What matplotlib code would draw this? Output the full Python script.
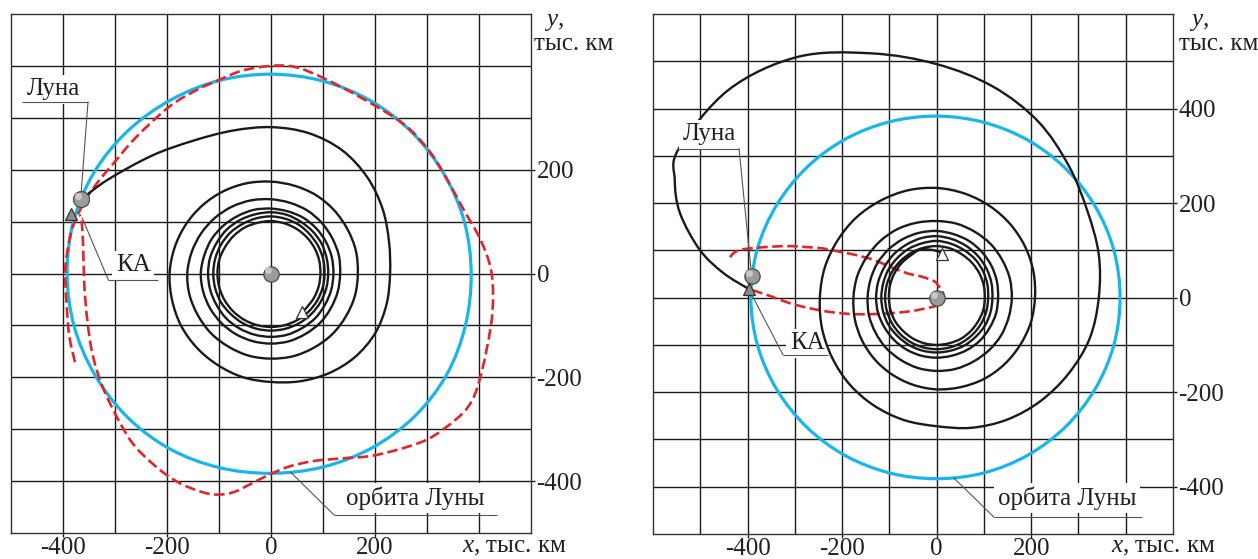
import numpy as np
import matplotlib
matplotlib.use('Agg')
import matplotlib.pyplot as plt
from matplotlib.path import Path
from matplotlib.patches import PathPatch

plt.rcParams['font.family'] = ['Liberation Serif', 'DejaVu Serif']
plt.rcParams['mathtext.fontset'] = 'custom'
plt.rcParams['mathtext.it'] = 'Liberation Serif:italic'
plt.rcParams['mathtext.rm'] = 'Liberation Serif'
plt.rcParams['axes.unicode_minus'] = False

# ---------------- data: left panel ----------------
L_xticks = [-400, -200, 0, 200]
L_yticks = [200, 0, -200, -400]
# Moon orbit: radius (thousand km) every 15 deg from 0 to 360
L_moon_orbit_r = [385, 385, 384, 384, 384, 384, 384, 385, 386, 389, 392, 393, 392,
                  392, 391, 391, 390, 387, 385, 386, 388, 390, 390, 387, 385]
# Spacecraft spiral: start point (angle, r), then r every 15 deg from -45 deg, then end
L_spiral_start = (-51, 95)
L_spiral_a0 = -45
L_spiral_r = [95, 95, 95,
              95, 96, 97, 98, 99, 100,
              101, 101, 102, 102, 102, 103,
              103, 103, 103, 103, 103, 103,
              103, 103, 103, 103, 103, 103,
              103, 104, 105, 106, 108, 109,
              110, 110, 110, 111, 111, 111,
              111, 111, 111, 110, 110, 110,
              110, 110, 110, 110, 110, 110,
              110, 111, 113, 114, 115, 117,
              118, 118, 119, 120, 120, 121,
              121, 121, 121, 122, 122, 122,
              122, 122, 121, 121, 120, 120,
              120, 121, 122, 123, 124, 124,
              125, 127, 128, 130, 132, 133,
              135, 135, 135, 135, 135, 135,
              135, 135, 134, 134, 133, 133,
              133, 135, 136, 138, 140, 141,
              143, 146, 149, 152, 155, 158,
              161, 162, 162, 163, 163, 164,
              164, 165, 165, 166, 166, 167,
              167, 169, 170, 172, 174, 175,
              177, 180, 183, 186, 189, 192,
              195, 197, 200, 202, 204, 207,
              209, 215, 222, 228, 231, 230,
              229, 235, 248, 262, 274, 280,
              282, 285, 296, 322, 362]
L_spiral_end = (-365, 143)
# red dashed trajectory (x, y in thousand km)
L_red_x = [-377, -388, -393, -396, -392, -384, -372, -355, -330, -303, -260, -195, -140,
           -102, -55, 0, 46, 100, 178, 255, 302, 333, 371, 402, 422, 427, 422, 402, 379,
           333, 286, 201, 139, 84, 38, 0, -40, -71, -102, -133, -179, -226, -272, -319,
           -342, -353, -359, -361, -364, -368]
L_red_y = [-171, -120, -60, 0, 40, 81, 112, 145, 180, 212, 262, 322, 355, 372, 391, 400,
           398, 377, 336, 288, 239, 191, 122, 67, 12, -43, -106, -202, -257, -299, -326,
           -350, -356, -361, -371, -386, -406, -421, -426, -421, -402, -368, -319, -230,
           -161, -92, -23, 46, 100, 113]
L_earth = (0, 0)
L_moon = (-365, 143)
L_ka = (-385, 115)
L_start = (60, -74)

# ---------------- data: right panel ----------------
R_xticks = [-400, -200, 0, 200]
R_yticks = [400, 200, 0, -200, -400]
R_moon_orbit_r = [388, 388, 387, 386, 385, 384, 384, 385, 387, 389, 391, 393, 393,
                  392, 390, 388, 386, 384, 383, 384, 385, 386, 387, 388, 388]
R_spiral_start_x = [12, -10, -36]
R_spiral_start_y = [95, 101, 101]
R_spiral_a0 = 120
R_spiral_r = [105, 104, 103, 102,
              101, 101, 101, 100, 100, 100,
              100, 100, 101, 101, 101, 102,
              102, 103, 104, 105, 106, 108,
              109, 109, 109, 109, 109, 109,
              109, 109, 109, 109, 109, 109,
              109, 109, 109, 109, 109, 109,
              109, 111, 113, 115, 116, 118,
              120, 119, 119, 118, 118, 117,
              117, 117, 117, 116, 116, 116,
              116, 116, 117, 117, 118, 118,
              118, 120, 122, 124, 126, 128,
              130, 130, 129, 129, 128, 128,
              128, 128, 127, 127, 127, 127,
              127, 127, 128, 129, 129, 130,
              130, 132, 134, 136, 138, 139,
              141, 142, 143, 144, 145, 145,
              146, 148, 149, 151, 152, 154,
              155, 156, 156, 157, 158, 158,
              159, 160, 160, 161, 161, 162,
              162, 164, 167, 169, 171, 174,
              176, 179, 182, 185, 188, 191,
              194, 196, 199, 201, 203, 206,
              208, 212, 216, 220, 224, 228,
              232, 235, 237, 240, 242, 245,
              247, 251, 255, 260, 264, 268,
              272, 285, 298, 310, 322, 335,
              343, 355, 368, 395, 430, 462,
              494, 535, 588, 622, 630]
R_spiral_end_x = [-554, -543, -501, -451, -397]
R_spiral_end_y = [249, 179, 101, 52, 18]
R_red_x = [-390, -351, -310, -266, -220, -172, -113, -57, -20, 0, 10, 15, 12, 3, -4, -30,
           -64, -100, -134, -170, -205, -240, -275, -310, -346, -385, -416, -432, -439]
R_red_y = [16, 3, -12, -23, -31, -35, -34, -29, -22, -17, -10, 0, 14, 26, 34, 44, 52, 66,
           80, 90, 97, 104, 107, 109, 108, 105, 101, 92, 80]
R_earth = (0, 0)
R_moon = (-391, 46)
R_ka = (-397, 18)
R_start = (12, 93)

CYAN = '#19b6e9'
RED = '#e0262b'
BLACK = '#1a1a1a'
TXT = '#231f20'

W, H = 1258, 559
fig = plt.figure(figsize=(W / 100, H / 100), dpi=100)


def polar_xy(a0, rs):
    ang = np.deg2rad(a0 + 15 * np.arange(len(rs)))
    r = np.asarray(rs, float)
    return r * np.cos(ang), r * np.sin(ang)


def smooth(ax, x, y, closed=False, **kw):
    """Draw a smooth curve (cubic Bezier segments) through the given points."""
    P = np.column_stack([x, y]).astype(float)
    n = len(P)
    if closed:
        ext = np.vstack([P[-2], P, P[1]])
    else:
        ext = np.vstack([P[0], P, P[-1]])
    verts = [P[0]]
    codes = [Path.MOVETO]
    for i in range(n - 1):
        p0, p1, p2, p3 = ext[i], ext[i + 1], ext[i + 2], ext[i + 3]
        verts += [p1 + (p2 - p0) / 6.0, p2 - (p3 - p1) / 6.0, p2]
        codes += [Path.CURVE4] * 3
    patch = PathPatch(Path(verts, codes), fill=False, **kw)
    ax.add_patch(patch)
    return patch


def setup(ax, xlim, ylim, xt, yt):
    ax.set_xlim(*xlim)
    ax.set_ylim(*ylim)
    ax.set_xticks(xt)
    ax.set_xticklabels([str(v) for v in xt])
    ax.set_yticks(yt)
    ax.set_yticklabels([str(v) for v in yt])
    ax.set_xticks(np.arange(xlim[0] + 100, xlim[1], 100), minor=True)
    ax.set_yticks(np.arange(ylim[0] + 100, ylim[1], 100), minor=True)
    ax.yaxis.tick_right()
    ax.tick_params(which='major', direction='out', length=3, width=1.0, color=BLACK,
                   labelsize=18, labelcolor=TXT)
    ax.tick_params(axis='x', which='major', pad=0.2)
    ax.tick_params(axis='y', which='major', pad=1)
    ax.tick_params(which='minor', length=0)
    ax.grid(True, which='both', color=BLACK, lw=1.0, zorder=0.5)
    ax.set_axisbelow(True)
    for s in ax.spines.values():
        s.set_color('#333333')
        s.set_linewidth(1.0)


def sphere(ax, xy, size):
    ax.plot(*xy, 'o', ms=size, mfc='#9b9b9b', mec='#4a4a4a', mew=0.9, zorder=7)
    ax.plot(xy[0] - size * 0.6, xy[1] + size * 0.6, 'o', ms=size * 0.45, mfc='#c8c8c8',
            mec='none', zorder=7.1)


def callout(ax, text, txy, ul_x, ul_y, lead_to, lead_from_left, z=3.5):
    ax.text(txy[0], txy[1], text, ha='center', va='center', fontsize=18, color=TXT,
            zorder=z, bbox=dict(fc='white', ec='none', pad=2.5))
    ax.plot(ul_x, [ul_y, ul_y], color='#555555', lw=0.8, zorder=10, solid_capstyle='butt')
    x0 = ul_x[0] if lead_from_left else ul_x[1]
    ax.plot([x0, lead_to[0]], [ul_y, lead_to[1]], color='#555555', lw=0.8, zorder=10)


# ---------------- left panel ----------------
ax1 = fig.add_axes([11 / W, (H - 533) / H, 520 / W, 519 / H])
setup(ax1, (-500, 500), (-500, 500), L_xticks, L_yticks)
mx, my = polar_xy(0, L_moon_orbit_r)
smooth(ax1, mx, my, closed=True, color=CYAN, lw=2.3, zorder=2)
smooth(ax1, L_red_x, L_red_y, color=RED, lw=1.9, linestyle=(0, (4, 1.7)), zorder=3)
sx, sy = polar_xy(L_spiral_a0, L_spiral_r)
a = np.deg2rad(L_spiral_start[0])
sx = np.concatenate([[L_spiral_start[1] * np.cos(a)], sx, [L_spiral_end[0]]])
sy = np.concatenate([[L_spiral_start[1] * np.sin(a)], sy, [L_spiral_end[1]]])
smooth(ax1, sx, sy, color=BLACK, lw=1.7, zorder=4)
sphere(ax1, L_earth, 11)
sphere(ax1, L_moon, 11.5)
ax1.plot(*L_ka, '^', ms=9, mfc='#8c8c8c', mec='#333333', mew=0.9, zorder=8)
ax1.plot(*L_start, '^', ms=9, mfc='white', mec='#333333', mew=0.9, zorder=8)
callout(ax1, 'Луна', (-419, 355), [-479, -352], 330, (-365, 157), False)
callout(ax1, 'КА', (-265, 16), [-313, -217], -12, (-363, 107), True)
callout(ax1, 'орбита Луны', (278, -433), [121, 435], -465, (38, -383), True)

# ---------------- right panel ----------------
ax2 = fig.add_axes([653 / W, (H - 534) / H, 520 / W, 520 / H])
setup(ax2, (-600, 500), (-500, 600), R_xticks, R_yticks)
mx, my = polar_xy(0, R_moon_orbit_r)
smooth(ax2, mx, my, closed=True, color=CYAN, lw=2.3, zorder=2)
smooth(ax2, R_red_x, R_red_y, color=RED, lw=1.9, linestyle=(0, (4, 1.7)), zorder=3)
sx, sy = polar_xy(R_spiral_a0, R_spiral_r)
sx = np.concatenate([R_spiral_start_x, sx, R_spiral_end_x])
sy = np.concatenate([R_spiral_start_y, sy, R_spiral_end_y])
smooth(ax2, sx, sy, color=BLACK, lw=1.7, zorder=4)
sphere(ax2, R_earth, 11)
sphere(ax2, R_moon, 11)
ax2.plot(*R_ka, '^', ms=9, mfc='#8c8c8c', mec='#333333', mew=0.9, zorder=8)
ax2.plot(*R_start, '^', ms=9, mfc='white', mec='#333333', mew=0.9, zorder=8)
callout(ax2, 'Луна', (-481, 346), [-549, -418], 315, (-393, 63), False, z=5)
callout(ax2, 'КА', (-274, -97), [-325, -230], -121, (-391, 6), True)
callout(ax2, 'орбита Луны', (276, -424), [121, 434], -464, (36, -381), True)

# axis captions
for xl in (462, 1111):
    fig.text(xl / W, 1 - 547 / H, r'$x$, тыс. км', fontsize=18, color=TXT,
             ha='left', va='center')
fig.text(544 / W, 1 - 22 / H, r'$y$,', fontsize=18, color=TXT, ha='left', va='center')
fig.text(534 / W, 1 - 44 / H, 'тыс. км', fontsize=18, color=TXT, ha='left', va='center')
fig.text(1189 / W, 1 - 22 / H, r'$y$,', fontsize=18, color=TXT, ha='left', va='center')
fig.text(1179 / W, 1 - 44 / H, 'тыс. км', fontsize=18, color=TXT, ha='left', va='center')

fig.savefig('out.png', dpi=100, facecolor='white')
